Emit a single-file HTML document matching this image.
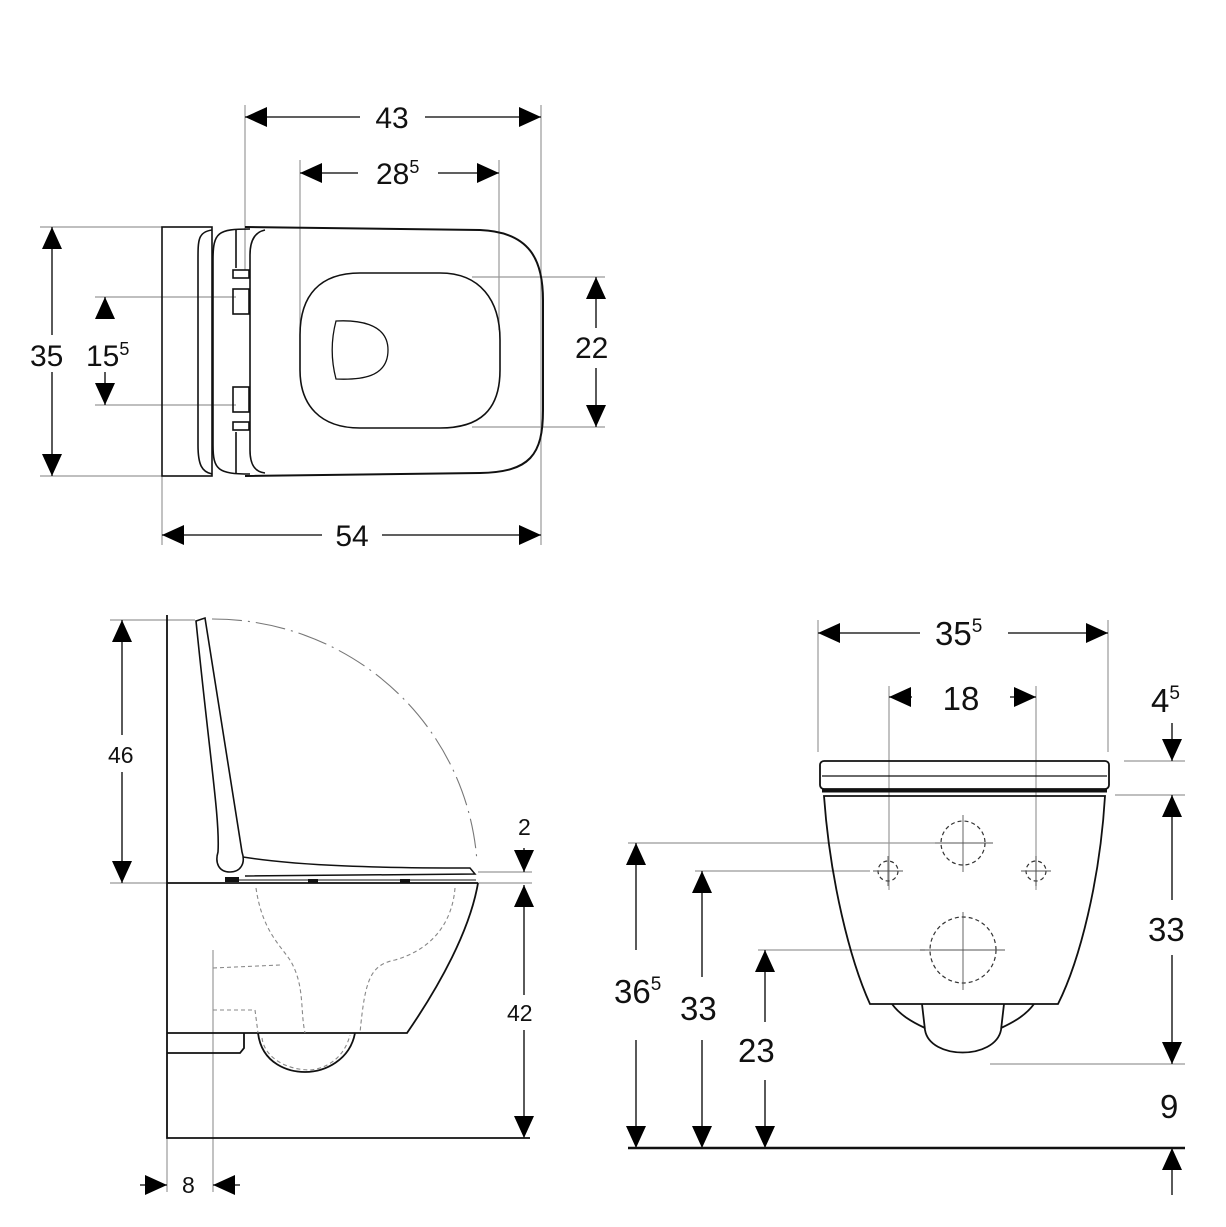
<!DOCTYPE html>
<html><head><meta charset="utf-8"><style>
html,body{margin:0;padding:0;background:#fff}
svg{display:block}
text{font-family:"Liberation Sans",sans-serif;fill:#111}
</style></head><body>
<svg width="1226" height="1227" viewBox="0 0 1226 1227" xmlns="http://www.w3.org/2000/svg">
<defs>
<marker id="a" markerUnits="userSpaceOnUse" markerWidth="24" markerHeight="20" refX="22" refY="10" orient="auto-start-reverse" viewBox="0 0 24 20"><path d="M0,0 L22,10 L0,20 Z" fill="#000"/></marker>
</defs>
<g fill="none" stroke="#999" stroke-width="1.2">
<line x1="245" y1="105" x2="245" y2="270"/><line x1="541" y1="105" x2="541" y2="545"/>
<line x1="300" y1="160" x2="300" y2="330"/><line x1="499" y1="160" x2="499" y2="330"/>
<line x1="40" y1="227" x2="162" y2="227"/><line x1="40" y1="476" x2="162" y2="476"/>
<line x1="95" y1="297" x2="236" y2="297"/><line x1="95" y1="405" x2="236" y2="405"/>
<line x1="472" y1="277" x2="605" y2="277"/><line x1="472" y1="427" x2="605" y2="427"/>
<line x1="162" y1="476" x2="162" y2="545"/>
<line x1="110" y1="620" x2="195" y2="620"/><line x1="110" y1="883" x2="167" y2="883"/>
<line x1="478" y1="883" x2="532" y2="883"/><line x1="478" y1="872" x2="532" y2="872"/>
<line x1="213" y1="950" x2="213" y2="1192"/><line x1="167" y1="1138" x2="167" y2="1192"/>
<line x1="818" y1="620" x2="818" y2="752"/><line x1="1108" y1="620" x2="1108" y2="752"/>
<line x1="889" y1="686" x2="889" y2="890"/><line x1="1036" y1="686" x2="1036" y2="890"/>
<line x1="1124" y1="761" x2="1185" y2="761"/><line x1="1115" y1="795" x2="1185" y2="795"/>
<line x1="990" y1="1064" x2="1185" y2="1064"/>
<line x1="628" y1="843" x2="935" y2="843"/><line x1="695" y1="871" x2="870" y2="871"/>
<line x1="758" y1="950" x2="925" y2="950"/>
</g>
<g stroke="#000" stroke-width="1.3" fill="none" marker-start="url(#a)" marker-end="url(#a)">
<line x1="245" y1="117" x2="360" y2="117" marker-end="none"/><line x1="425" y1="117" x2="541" y2="117" marker-start="none"/>
<line x1="300" y1="173" x2="358" y2="173" marker-end="none"/><line x1="438" y1="173" x2="499" y2="173" marker-start="none"/>
<line x1="52" y1="227" x2="52" y2="335" marker-end="none"/><line x1="52" y1="372" x2="52" y2="476" marker-start="none"/>
<line x1="105" y1="297" x2="105" y2="312" marker-end="none"/><line x1="105" y1="372" x2="105" y2="405" marker-start="none"/>
<line x1="596" y1="277" x2="596" y2="328" marker-end="none"/><line x1="596" y1="368" x2="596" y2="427" marker-start="none"/>
<line x1="162" y1="535" x2="322" y2="535" marker-end="none"/><line x1="382" y1="535" x2="541" y2="535" marker-start="none"/>
<line x1="122" y1="620" x2="122" y2="735" marker-end="none"/><line x1="122" y1="772" x2="122" y2="883" marker-start="none"/>
<line x1="524" y1="885" x2="524" y2="995" marker-end="none"/><line x1="524" y1="1030" x2="524" y2="1138" marker-start="none"/>
<line x1="524" y1="848" x2="524" y2="872" marker-start="none"/>
<line x1="140" y1="1185" x2="167" y2="1185" marker-start="none"/><line x1="240" y1="1185" x2="213" y2="1185" marker-start="none"/>
<line x1="818" y1="633" x2="920" y2="633" marker-end="none"/><line x1="1008" y1="633" x2="1108" y2="633" marker-start="none"/>
<line x1="889" y1="697" x2="912" y2="697" marker-end="none"/><line x1="1010" y1="697" x2="1036" y2="697" marker-start="none"/>
<line x1="1172" y1="723" x2="1172" y2="761" marker-start="none"/>
<line x1="1172" y1="795" x2="1172" y2="900" marker-end="none"/><line x1="1172" y1="955" x2="1172" y2="1064" marker-start="none"/>
<line x1="1172" y1="1195" x2="1172" y2="1148" marker-start="none"/>
<line x1="636" y1="843" x2="636" y2="950" marker-end="none"/><line x1="636" y1="1040" x2="636" y2="1148" marker-start="none"/>
<line x1="702" y1="871" x2="702" y2="977" marker-end="none"/><line x1="702" y1="1040" x2="702" y2="1148" marker-start="none"/>
<line x1="765" y1="950" x2="765" y2="1022" marker-end="none"/><line x1="765" y1="1080" x2="765" y2="1148" marker-start="none"/>
</g>
<!-- TOP VIEW -->
<g fill="none" stroke="#111" stroke-width="1.6">
<rect x="162" y="227" width="50" height="249"/>
<path d="M212,230 C198,232 198,240 198,260 L198,445 C198,465 202,472 212,474"/>
<path d="M250,229 C218,229 213,232 213,260 L213,445 C213,470 218,474 250,474"/>
<path d="M245,227 L480,230 C530,232 543,260 543,300 L543,410 C543,455 530,472 480,473 L245,476" stroke-width="2"/>
<path d="M265,230 C255,232 250,240 250,255 L250,450 C250,465 255,472 265,473"/>
<path d="M360,273 L440,273 C480,273 500,300 500,340 L500,370 C500,410 480,428 440,428 L360,428 C320,428 300,405 300,370 L300,335 C300,295 320,273 360,273 Z"/>
<path d="M336,321 C355,320 388,322 388,350 C388,378 360,380 336,379 C331,360 331,340 336,321 Z" stroke-width="1.3"/>
<rect x="233" y="289" width="16" height="25"/><rect x="233" y="387" width="16" height="25"/>
<rect x="233" y="270" width="16" height="8"/><rect x="233" y="422" width="16" height="8"/>
<line x1="236" y1="230" x2="236" y2="268"/><line x1="236" y1="432" x2="236" y2="474"/>
</g>
<!-- SIDE VIEW -->
<g fill="none" stroke="#111" stroke-width="1.8">
<polyline points="167,615 167,1138 530,1138"/>
<line x1="167" y1="883" x2="478" y2="883"/>
<path d="M478,883 C470,930 440,985 407,1033 L167,1033"/>
<path d="M167,1053 L240,1053 L244,1048 L244,1033"/>
<path d="M258,1033 C262,1065 290,1072 305,1072 C325,1072 350,1060 355,1033"/>
<path d="M196,621 L205,618 L242,852 C246,864 240,872 230,872 C218,872 215,862 218,852 C220,820 210,760 196,621 Z" stroke-width="1.6"/>
<path d="M243,857 C300,866 380,868 470,868 L475,874 L245,876" stroke-width="1.5"/>
<line x1="230" y1="880" x2="476" y2="880" stroke-width="1"/>
</g>
<g fill="#111">
<rect x="225" y="877" width="14" height="5"/><rect x="308" y="879" width="10" height="4"/><rect x="400" y="879" width="10" height="4"/>
</g>
<path d="M212,619 A 265 260 0 0 1 477,862" fill="none" stroke="#777" stroke-width="1.1" stroke-dasharray="30,6,2,6"/>
<g fill="none" stroke="#888" stroke-width="1.1" stroke-dasharray="4,3">
<path d="M256,888 C262,930 280,945 290,960 C305,985 300,1010 305,1033"/>
<path d="M455,888 C452,925 430,950 395,960 C370,965 365,980 360,1033"/>
<path d="M213,968 L280,965 M213,1010 L255,1010 L258,1033"/>
<path d="M262,1038 C265,1060 290,1070 310,1070 C330,1068 345,1055 350,1035"/>
</g>
<!-- FRONT VIEW -->
<g fill="none" stroke="#111" stroke-width="1.8">
<rect x="820" y="761" width="289" height="28" rx="4"/>
<line x1="822" y1="776" x2="1107" y2="776" stroke-width="1.2"/>
<line x1="822" y1="791" x2="1107" y2="791" stroke-width="3"/>
<path d="M824,796 L1105,796 C1100,880 1080,960 1058,1004 L870,1004 C850,960 830,880 824,796 Z"/>
<path d="M922,1004 L925,1030 C930,1060 995,1060 1001,1030 L1004,1004"/>
<path d="M892,1004 C900,1015 912,1022 925,1028 M1034,1004 C1026,1015 1014,1022 1001,1028"/>
<line x1="628" y1="1148" x2="1185" y2="1148" stroke-width="2.5"/>
</g>
<g fill="none" stroke="#333" stroke-width="1.2" stroke-dasharray="4,3">
<circle cx="963" cy="843" r="22"/><circle cx="888" cy="871" r="10"/><circle cx="1036" cy="871" r="10"/><circle cx="963" cy="950" r="33"/>
</g>
<g stroke="#555" stroke-width="0.9">
<path d="M963,815V872M935,843H993M963,912V990M920,950H1005M873,871H903M888,856V886M1021,871H1051M1036,856V886"/>
</g>
<g font-size="30">
<text x="392" y="128" text-anchor="middle">43</text>
<text x="376" y="184">28<tspan font-size="18" dy="-11">5</tspan></text>
<text x="30" y="366">35</text>
<text x="86" y="366">15<tspan font-size="18" dy="-11">5</tspan></text>
<text x="575" y="358">22</text>
<text x="352" y="546" text-anchor="middle">54</text>
<text x="935" y="645" font-size="33">35<tspan font-size="19" dy="-13">5</tspan></text>
<text x="961" y="710" font-size="33" text-anchor="middle">18</text>
<text x="1151" y="712" font-size="33">4<tspan font-size="19" dy="-13">5</tspan></text>
<text x="1148" y="941" font-size="33">33</text>
<text x="1160" y="1118" font-size="33">9</text>
<text x="614" y="1003" font-size="33">36<tspan font-size="19" dy="-13">5</tspan></text>
<text x="680" y="1020" font-size="33">33</text>
<text x="738" y="1062" font-size="33">23</text>
</g>
<g font-size="23">
<text x="108" y="763">46</text>
<text x="518" y="835">2</text>
<text x="507" y="1021">42</text>
<text x="182" y="1193">8</text>
</g>
</svg>
</body></html>
